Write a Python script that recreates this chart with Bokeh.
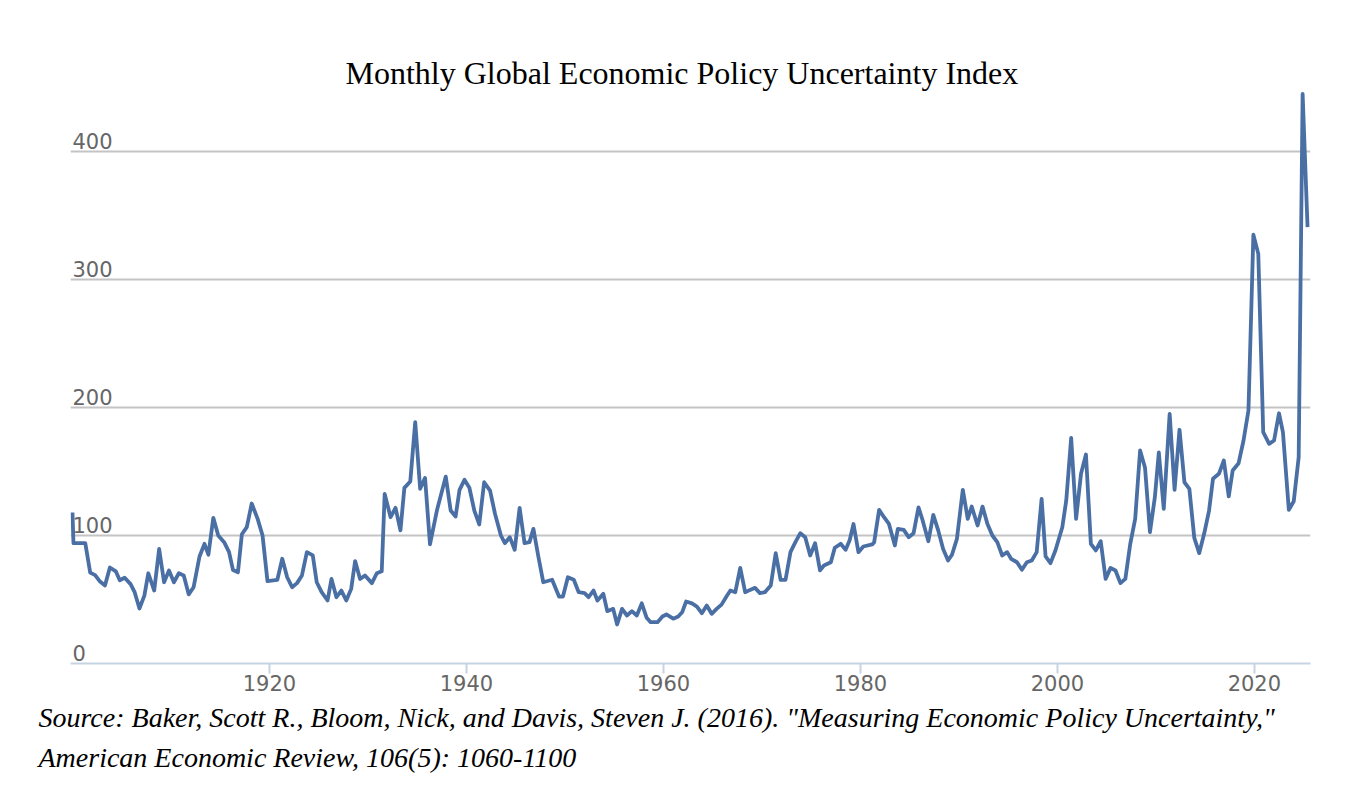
from bokeh.plotting import figure
from bokeh.models import Range1d, FixedTicker, ColumnDataSource, Title
from bokeh.core.properties import value
from bokeh.embed import file_html
from bokeh.resources import INLINE

# ---- data ----
years = [
    1900.0, 1900.1, 1901.3, 1901.8, 1902.3, 1902.8, 1903.3, 1903.8, 1904.4, 1904.8,
    1905.3, 1905.9, 1906.3, 1906.8, 1907.3, 1907.7, 1908.3, 1908.8, 1909.3, 1909.8,
    1910.3, 1910.8, 1911.3, 1911.8, 1912.3, 1912.9, 1913.4, 1913.8, 1914.3, 1914.8,
    1915.4, 1915.9, 1916.3, 1916.8, 1917.2, 1917.7, 1918.2, 1918.8, 1919.3, 1919.8,
    1920.8, 1921.3, 1921.8, 1922.3, 1922.8, 1923.3, 1923.8, 1924.4, 1924.8, 1925.3,
    1925.9, 1926.3, 1926.8, 1927.3, 1927.8, 1928.3, 1928.7, 1929.2, 1929.7, 1930.4,
    1930.9, 1931.4, 1931.7, 1932.3, 1932.8, 1933.3, 1933.7, 1934.3, 1934.8, 1935.3,
    1935.8, 1936.3, 1937.0, 1937.9, 1938.4, 1938.9, 1939.3, 1939.8, 1940.3, 1940.8,
    1941.3, 1941.8, 1942.4, 1942.9, 1943.5, 1943.9, 1944.4, 1944.9, 1945.4, 1945.9,
    1946.4, 1946.8, 1947.3, 1947.8, 1948.7, 1949.4, 1949.8, 1950.3, 1950.9, 1951.4,
    1952.0, 1952.4, 1952.9, 1953.3, 1953.9, 1954.3, 1954.9, 1955.3, 1955.8, 1956.3,
    1956.8, 1957.3, 1957.8, 1958.3, 1958.7, 1959.4, 1959.9, 1960.3, 1961.0, 1961.5,
    1961.9, 1962.3, 1962.9, 1963.4, 1963.9, 1964.4, 1964.9, 1965.4, 1965.9, 1966.4,
    1966.8, 1967.3, 1967.8, 1968.3, 1968.8, 1969.3, 1969.8, 1970.3, 1970.9, 1971.4,
    1971.9, 1972.4, 1972.9, 1973.4, 1973.9, 1974.4, 1974.9, 1975.4, 1975.9, 1976.3,
    1977.0, 1977.4, 1978.0, 1978.5, 1978.9, 1979.3, 1979.8, 1980.3, 1981.2, 1981.4,
    1981.9, 1982.4, 1982.9, 1983.5, 1983.8, 1984.4, 1984.9, 1985.4, 1985.9, 1986.3,
    1986.9, 1987.4, 1987.9, 1988.4, 1988.9, 1989.3, 1989.8, 1990.4, 1990.9, 1991.3,
    1991.9, 1992.4, 1992.9, 1993.4, 1993.9, 1994.4, 1994.9, 1995.3, 1995.9, 1996.4,
    1996.9, 1997.4, 1997.9, 1998.4, 1998.8, 1999.3, 1999.8, 2000.5, 2000.9, 2001.4,
    2001.9, 2002.4, 2002.9, 2003.4, 2003.9, 2004.4, 2004.9, 2005.4, 2005.9, 2006.4,
    2006.9, 2007.4, 2007.9, 2008.4, 2008.9, 2009.4, 2009.9, 2010.3, 2010.8, 2011.4,
    2011.9, 2012.4, 2012.9, 2013.4, 2013.9, 2014.4, 2014.9, 2015.4, 2015.8, 2016.4,
    2016.9, 2017.4, 2017.8, 2018.4, 2018.9, 2019.4, 2019.9, 2020.4, 2020.9, 2021.5,
    2022.0, 2022.5, 2022.9, 2023.5, 2024.0, 2024.5, 2024.9, 2025.4,
]
gepu = [
    118, 94, 94, 71, 69, 64, 61, 75, 72, 65,
    67, 62, 56, 43, 53, 70.5, 57, 89.5, 63.5, 72.7,
    63.5, 70.5, 68.8, 54, 59.6, 83.6, 93.5, 85, 113.8, 100,
    94.8, 87, 73, 71.3, 101, 106.5, 125, 113, 100, 64.3,
    65.4, 81.8, 67.4, 59.6, 62.8, 68.8, 87, 84.4, 63.5, 55.7,
    49.2, 66.1, 51.8, 57, 49.2, 58.3, 80, 66, 68.8, 62.8,
    70.5, 72, 132.5, 114.3, 121.6, 104, 137.2, 142.2, 188.5, 136.5,
    145, 93, 119.5, 146, 119.5, 114.8, 135.7, 143.5, 137.3, 119.5,
    108.6, 141.6, 135, 117, 100, 94, 98.7, 88.8, 121.6, 94,
    94.8, 105.2, 83.6, 63.5, 65.4, 52.3, 52.3, 67.4, 65.4, 55.7,
    55, 51.8, 57, 49.2, 54.4, 40.9, 42.7, 30.5, 42.7, 37.5,
    40.9, 37.5, 47, 35.7, 32.3, 32.3, 36.7, 38.3, 35, 36.7,
    40, 48.4, 47, 44.5, 39.3, 45.3, 38.8, 42.7, 46, 52.3,
    57, 55.7, 74.7, 55.7, 57.5, 59.1, 55, 55.7, 61, 86.2,
    65.4, 65.4, 87, 94.8, 101.8, 98.7, 84.4, 94, 72.7, 76.6,
    79.1, 90.4, 93.5, 88.8, 96, 109, 87, 91.4, 93, 94.8,
    120, 114.3, 109, 92.2, 105.2, 104.4, 98.7, 101.8, 122, 112.3,
    95.5, 116.1, 104, 89.5, 80.5, 85, 97.4, 135.7, 113, 122.6,
    107.8, 122.6, 109, 100, 94.8, 84.4, 87, 81.8, 79.1, 73.2,
    79.1, 80.5, 87, 128.6, 83.6, 78.4, 88.3, 106.5, 127.3, 176.3,
    113, 148.2, 163.3, 93.5, 88.3, 95.5, 66.1, 74.7, 72.7, 62.8,
    66.1, 93.5, 113, 166.4, 152.9, 102.6, 130, 165, 120.8, 195,
    135.7, 182.6, 141.6, 136.5, 98.2, 86.2, 101.3, 119.5, 144.3, 148.2,
    158.6, 130.5, 150.8, 156.5, 174.2, 197.7, 335, 320, 180.7, 171.6,
    174.2, 195.5, 180.7, 120, 126.8, 161.2, 445, 340.9,
]
x_ticks = [1920, 1940, 1960, 1980, 2000, 2020]
y_ticks = [0, 100, 200, 300, 400]
y_tick_labels = ["0", "100", "200", "300", "400"]

title_text = "Monthly Global Economic Policy Uncertainty Index"
source_line1 = ('Source: Baker, Scott R., Bloom, Nick, and Davis, Steven J. (2016). '
                '"Measuring Economic Policy Uncertainty,"')
source_line2 = "American Economic Review, 106(5): 1060-1100"

X_START, X_END = 1899.8, 2025.7

p = figure(width=1350, height=800, output_backend="svg", toolbar_location=None,
           x_range=Range1d(X_START, X_END), y_range=Range1d(0, 450),
           min_border_left=70, min_border_right=40, min_border_top=87,
           min_border_bottom=137)
p.background_fill_color = "white"
p.border_fill_color = "white"
p.outline_line_color = None

# title
p.title.text = title_text
p.title.align = "left"
p.title.offset = 275
p.title.text_font = "Liberation Serif"
p.title.text_font_size = "32px"
p.title.text_font_style = "normal"
p.title.text_color = "#000000"
p.title.standoff = -6

# grid
p.xgrid.visible = False
p.ygrid.ticker = FixedTicker(ticks=y_ticks[1:])
p.ygrid.grid_line_color = "#c4c4c4"
p.ygrid.grid_line_width = 2

# axes
p.yaxis.visible = False
xa = p.xaxis[0]
xa.ticker = FixedTicker(ticks=x_ticks)
xa.axis_line_color = "#c6d3e2"
xa.axis_line_width = 2
xa.major_tick_line_color = "#c6d3e2"
xa.major_tick_line_width = 2
xa.major_tick_out = 10
xa.major_tick_in = 0
xa.minor_tick_line_color = None
xa.major_label_text_font = "DejaVu Sans"
xa.major_label_text_font_size = "21px"
xa.major_label_text_color = "#666666"
xa.major_label_standoff = 1

# y tick labels inside plot area, above gridlines
ysrc = ColumnDataSource(dict(x=[X_START] * len(y_ticks), y=y_ticks, t=y_tick_labels))
p.text(x="x", y="y", text="t", source=ysrc, x_offset=2, y_offset=-3,
       text_align="left", text_baseline="bottom",
       text_font=value("DejaVu Sans"), text_font_size="21px", text_color="#666666")

# series
p.line(years, gepu, line_color="#4a6fa5", line_width=3.8, line_join="round")

# source lines
for i, txt in enumerate((source_line1, source_line2)):
    t = Title(text=txt, align="left", text_font="Liberation Serif",
              text_font_size="28px", text_font_style="italic", text_color="#000000",
              offset=-32, standoff=(12 if i == 0 else 2))
    p.add_layout(t, "below")

open("out.html", "w").write(file_html(p, INLINE))
